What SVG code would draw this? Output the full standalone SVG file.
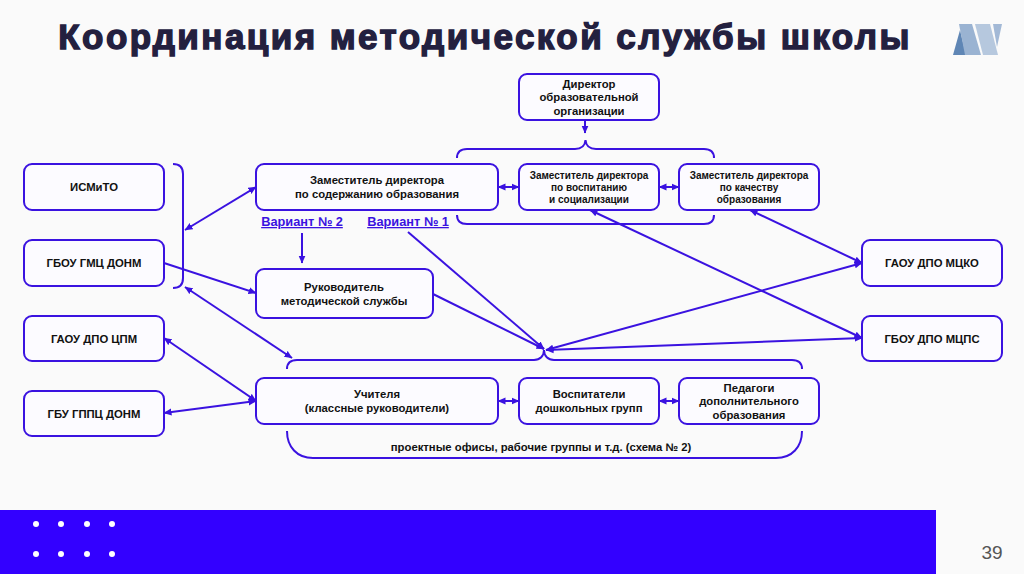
<svg xmlns="http://www.w3.org/2000/svg" width="1024" height="574" viewBox="0 0 1024 574">
<style>
text{font-family:"Liberation Sans",Arial,sans-serif;font-weight:bold;fill:#111;text-anchor:middle}
.b{fill:#fcfbff;stroke:#3a12e0;stroke-width:2}
.l{fill:none;stroke:#3a12e0;stroke-width:2}
.t{font-size:11.3px}
.s{font-size:10px}
.c{stroke:#3a12e0;stroke-width:2;fill:none;marker-end:url(#a)}
.d{stroke:#3a12e0;stroke-width:2;fill:none;marker-end:url(#a);marker-start:url(#as)}
.v{font-size:12.8px;fill:#3a12e0;text-decoration:underline}
.h{font-size:35px;letter-spacing:2.45px;fill:#23203f;stroke:#23203f;stroke-width:1.4px}
</style>
<defs>
<marker id="a" viewBox="0 0 8 8" refX="7.5" refY="4" markerWidth="8" markerHeight="8" markerUnits="userSpaceOnUse" orient="auto"><path d="M0 0.5L8 4L0 7.5z" fill="#3a12e0"/></marker>
<marker id="as" viewBox="0 0 8 8" refX="0.5" refY="4" markerWidth="8" markerHeight="8" markerUnits="userSpaceOnUse" orient="auto"><path d="M8 0.5L0 4L8 7.5z" fill="#3a12e0"/></marker>
</defs>
<rect width="1024" height="574" fill="#fafafa"/>
<text class="h" x="485" y="49">Координация методической службы школы</text>
<g id="logo">
<polygon points="953,55 966,55 960,30" fill="#5f86b5"/>
<polygon points="959,24 972,24 981,55 965,55" fill="#9ab3d2"/>
<polygon points="975,24 990,24 998,55 983,55" fill="#b6c8de"/>
<polygon points="993,24 1002,24 997,47" fill="#a3b9d6"/>
</g>
<g id="connectors">
<path class="d" d="M185 230L256 187"/>
<path class="c" d="M164 263L256 293"/>
<path class="d" d="M185 287L292 358"/>
<path class="d" d="M164 338L256 401"/>
<path class="d" d="M164 413L256 401"/>
<path class="c" d="M302 233V263"/>
<path class="c" d="M408 232L544 349"/>
<path class="c" d="M433 294L544 349"/>
<path class="d" d="M590 210L862 338"/>
<path class="d" d="M750 210L862 263"/>
<path class="d" d="M546 350L862 263"/>
<path class="d" d="M546 350L862 338"/>
<path class="c" d="M585 120V133"/>
<path class="d" d="M498 187H519"/>
<path class="d" d="M659 187H679"/>
<path class="d" d="M498 401H519"/>
<path class="d" d="M659 401H679"/>
<path class="l" d="M173 164C180 164 183 167 183 174V278C183 285 180 288 173 288"/>
<path class="l" d="M457 158C457 152 460 149 467 149H575C581 149 585 146 585.500 140C586 146 590 149 596 149H704C711 149 714 152 714 158"/>
<path class="l" d="M457 215C457 221 460 224 467 224H704C711 224 714 221 714 215"/>
<path class="l" d="M287 369C287 363 291 360 297 360H534C540 360 544 356 544 350C544 356 548 360 554 360H792C798 360 802 363 802 369"/>
<path class="l" d="M287 431C287 447 297 458 313 458H776C792 458 802 447 802 431"/>
</g>
<g id="n1"><rect class="b" x="24" y="164" width="140" height="46" rx="8"/><text class="t" x="94" y="191">ИСМиТО</text></g>
<g id="n2"><rect class="b" x="24" y="240" width="140" height="46" rx="8"/><text class="t" x="94" y="267">ГБОУ ГМЦ ДОНМ</text></g>
<g id="n3"><rect class="b" x="24" y="316" width="140" height="45" rx="8"/><text class="t" x="94" y="343">ГАОУ ДПО ЦПМ</text></g>
<g id="n4"><rect class="b" x="24" y="391" width="140" height="45" rx="8"/><text class="t" x="94" y="418">ГБУ ГППЦ ДОНМ</text></g>
<g id="n5"><rect class="b" x="256" y="164" width="242" height="46" rx="8"/><text class="t" x="377" y="184">Заместитель директора</text><text class="t" x="377" y="198">по содержанию образования</text></g>
<g id="n6"><rect class="b" x="519" y="74" width="140" height="46" rx="8"/><text class="t" x="589" y="88">Директор</text><text class="t" x="589" y="101">образовательной</text><text class="t" x="589" y="115">организации</text></g>
<g id="n7"><rect class="b" x="519" y="164" width="140" height="46" rx="8"/><text class="s" x="589" y="179">Заместитель директора</text><text class="s" x="589" y="191">по воспитанию</text><text class="s" x="589" y="203">и социализации</text></g>
<g id="n8"><rect class="b" x="679" y="164" width="140" height="46" rx="8"/><text class="s" x="749" y="179">Заместитель директора</text><text class="s" x="749" y="191">по качеству</text><text class="s" x="749" y="203">образования</text></g>
<g id="n9"><rect class="b" x="256" y="269" width="177" height="49" rx="8"/><text class="t" x="344" y="291">Руководитель</text><text class="t" x="344" y="305">методической службы</text></g>
<g id="n10"><rect class="b" x="862" y="240" width="140" height="46" rx="8"/><text class="t" x="932" y="267">ГАОУ ДПО МЦКО</text></g>
<g id="n11"><rect class="b" x="862" y="316" width="140" height="45" rx="8"/><text class="t" x="932" y="343">ГБОУ ДПО МЦПС</text></g>
<g id="n12"><rect class="b" x="256" y="378" width="242" height="46" rx="8"/><text class="t" x="377" y="398">Учителя</text><text class="t" x="377" y="412">(классные руководители)</text></g>
<g id="n13"><rect class="b" x="519" y="378" width="140" height="46" rx="8"/><text class="t" x="589" y="398">Воспитатели</text><text class="t" x="589" y="412">дошкольных групп</text></g>
<g id="n14"><rect class="b" x="679" y="378" width="140" height="46" rx="8"/><text class="t" x="749" y="392">Педагоги</text><text class="t" x="749" y="405">дополнительного</text><text class="t" x="749" y="419">образования</text></g>
<text class="v" x="302" y="226">Вариант № 2</text>
<text class="v" x="408" y="226">Вариант № 1</text>
<text class="t" x="541" y="451">проектные офисы, рабочие группы и т.д. (схема № 2)</text>
<rect y="510" width="936" height="64" fill="#3300ff"/>
<g fill="#fff"><circle cx="36" cy="524" r="3"/><circle cx="61" cy="524" r="3"/><circle cx="87" cy="524" r="3"/><circle cx="112" cy="524" r="3"/><circle cx="36" cy="554" r="3"/><circle cx="61" cy="554" r="3"/><circle cx="87" cy="554" r="3"/><circle cx="112" cy="554" r="3"/></g>
<text x="992" y="559" font-size="19" style="font-weight:normal;fill:#555">39</text>
</svg>
